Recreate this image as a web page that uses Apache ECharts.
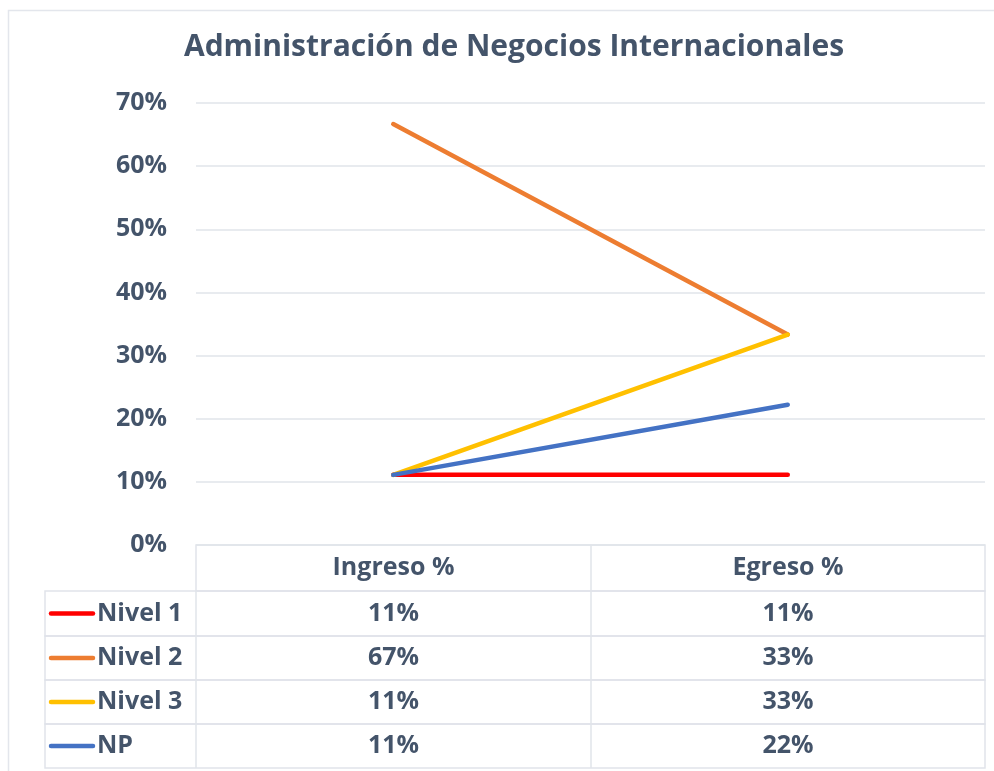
<!DOCTYPE html>
<html>
<head>
<meta charset="utf-8">
<script src="https://cdn.jsdelivr.net/npm/echarts@6/dist/echarts.min.js"></script>
<style>
  html, body { margin: 0; padding: 0; background: #fff; }
  #chart { width: 994px; height: 771px; }
</style>
</head>
<body>
<div id="chart"></div>
<script>
const categories = ['Ingreso %', 'Egreso %']
const seriesNames = ['Nivel 1', 'Nivel 2', 'Nivel 3', 'NP']
const nivel1 = [0.1111, 0.1111]
const nivel2 = [0.6667, 0.3333]
const nivel3 = [0.1111, 0.3333]
const np = [0.1111, 0.2222]
const yTicks = [0, 0.1, 0.2, 0.3, 0.4, 0.5, 0.6, 0.7]

const colors = ['#FF0000', '#ED7D31', '#FFC000', '#4472C4']
const textColor = '#44546A'
const lineColor = '#E1E4EA'
const font = '"Open Sans"'

const seriesData = [nivel1, nivel2, nivel3, np]

// table layout
const tableLeft = 45
const colEdges = [196, 591, 985]
const headerTop = 545
const rowEdges = [591, 636, 680, 724, 768]

const chart = echarts.init(document.getElementById('chart'))

const pct = v => Math.round(v * 100) + '%'

const graphics = []

// outer chart border
graphics.push({
  type: 'rect',
  shape: { x: 8.5, y: 10.5, width: 1100, height: 900 },
  style: { fill: 'none', stroke: '#E3E6EC', lineWidth: 1.5 },
  silent: true
})

// header box
graphics.push({
  type: 'rect',
  shape: { x: colEdges[0], y: headerTop, width: colEdges[2] - colEdges[0], height: rowEdges[0] - headerTop },
  style: { fill: 'none', stroke: lineColor, lineWidth: 1.5 }
})
graphics.push({
  type: 'line',
  shape: { x1: colEdges[1], y1: headerTop, x2: colEdges[1], y2: rowEdges[rowEdges.length - 1] },
  style: { stroke: lineColor, lineWidth: 1.5 }
})
categories.forEach((c, i) => {
  graphics.push({
    type: 'text',
    x: (colEdges[i] + colEdges[i + 1]) / 2,
    y: (headerTop + rowEdges[0]) / 2,
    style: { text: c, fill: textColor, font: 'bold 25px ' + font, textAlign: 'center', textVerticalAlign: 'middle' }
  })
})

// body rows
seriesNames.forEach((name, r) => {
  const top = rowEdges[r]
  const bottom = rowEdges[r + 1]
  const mid = (top + bottom) / 2
  graphics.push({
    type: 'rect',
    shape: { x: tableLeft, y: top, width: colEdges[2] - tableLeft, height: bottom - top },
    style: { fill: 'none', stroke: lineColor, lineWidth: 1.5 }
  })
  graphics.push({
    type: 'line',
    shape: { x1: colEdges[0], y1: top, x2: colEdges[0], y2: bottom },
    style: { stroke: lineColor, lineWidth: 1.5 }
  })
  graphics.push({
    type: 'line',
    shape: { x1: 51, y1: mid, x2: 93, y2: mid },
    style: { stroke: colors[r], lineWidth: 4.5, lineCap: 'round' }
  })
  graphics.push({
    type: 'text',
    x: 97,
    y: mid,
    style: { text: name, fill: textColor, font: 'bold 25px ' + font, textAlign: 'left', textVerticalAlign: 'middle' }
  })
  seriesData[r].forEach((v, i) => {
    graphics.push({
      type: 'text',
      x: (colEdges[i] + colEdges[i + 1]) / 2,
      y: mid,
      style: { text: pct(v), fill: textColor, font: 'bold 25px ' + font, textAlign: 'center', textVerticalAlign: 'middle' }
    })
  })
})

const option = {
  animation: false,
  color: colors,
  title: {
    text: 'Administración de Negocios Internacionales',
    left: 509,
    top: 27,
    textAlign: 'center',
    textStyle: { color: textColor, fontFamily: 'Open Sans', fontWeight: 'bold', fontSize: 30 }
  },
  grid: {
    left: 196,
    right: 9,
    top: 103,
    bottom: 226,
    containLabel: false
  },
  xAxis: {
    type: 'category',
    data: categories,
    boundaryGap: true,
    axisLine: { show: false },
    axisTick: { show: false },
    axisLabel: { show: false }
  },
  yAxis: {
    type: 'value',
    min: yTicks[0],
    max: yTicks[yTicks.length - 1],
    interval: 0.1,
    axisLine: { show: false },
    axisTick: { show: false },
    splitLine: { lineStyle: { color: lineColor, width: 1.5 } },
    axisLabel: {
      margin: 29,
      color: textColor,
      fontFamily: 'Open Sans',
      fontWeight: 'bold',
      fontSize: 25,
      formatter: v => Math.round(v * 100) + '%'
    }
  },
  series: seriesNames.map((name, i) => ({
    name: name,
    type: 'line',
    data: seriesData[i],
    symbol: 'none',
    lineStyle: { width: 4.5, color: colors[i], cap: 'round' }
  })),
  graphic: graphics
}

chart.setOption(option)
</script>
</body>
</html>
